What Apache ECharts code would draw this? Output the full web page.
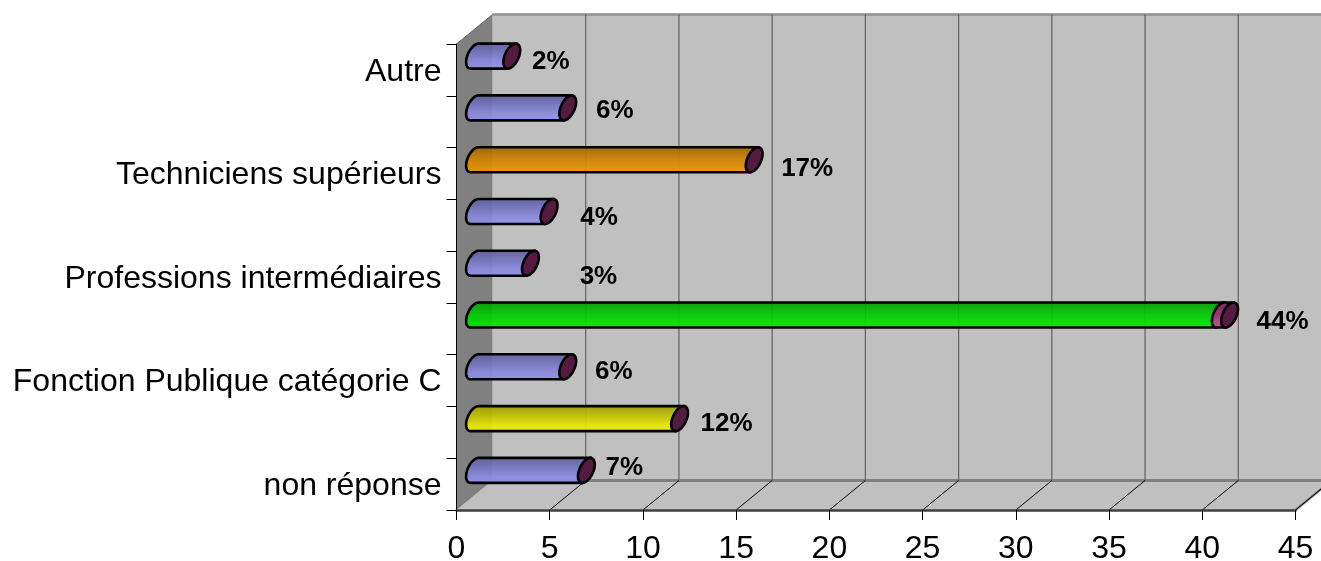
<!DOCTYPE html>
<html><head><meta charset="utf-8">
<style>html,body{margin:0;padding:0;background:#fff}#c{width:1321px;height:561px}</style>
<script src="https://cdn.jsdelivr.net/npm/echarts@6/dist/echarts.min.js"></script>
</head><body><div id="c"></div>
<script>
// Bottom-to-top, as the value axis reads them
const categories = ['non réponse','','Fonction Publique catégorie C','','Professions intermédiaires','','Techniciens supérieurs','','Autre'];
const counts     = [6, 11, 5, 40, 3, 4, 15, 5, 2];
const extraCaps  = [0, 0, 0, 0.5, 0, 0, 0, 0, 0];
const percents   = ['7%','12%','6%','44%','3%','4%','17%','6%','2%'];
const xTicks     = [0,5,10,15,20,25,30,35,40,45];

// Styling only
const barTints = ['blue','yellow','blue','green','blue','blue','orange','blue','blue'];
const tintStops = {
  blue:  ['#5f5fa0','#6c6cb4','#7c7ccc','#8a8ae0','#9090ee'],
  yellow:['#a0a000','#b4b400','#cccc00','#e6e600','#f0f000'],
  green: ['#00a000','#00b400','#00cc00','#00dc00','#00e800'],
  orange:['#a06400','#b87400','#d08400','#e08c00','#ec9400']
};
const labelShift = [[38,-2.5],[47,5],[46,5],[53,7],[68,14],[50,6.5],[53,9],[47,3],[39,6]];
const DEPTH_X = 36, DEPTH_Y = 29.5;

function grad(c){return {type:'linear',x:0,y:0,x2:0,y2:1,colorStops:[
  {offset:0,color:c[0]},{offset:.25,color:c[1]},{offset:.5,color:c[2]},{offset:.75,color:c[3]},{offset:1,color:c[4]}]};}
function ell(cx,cy,from,to,n){const a=7.4,s=4,b=12.5,pts=[];
  for(let k=0;k<=n;k++){const t=(from+(to-from)*k/n)*Math.PI/180;
    pts.push([cx+a*Math.cos(t)+s*Math.sin(t),cy-b*Math.sin(t)]);}
  return pts;}
function tube(x0,x1,cy,stops,op){
  const p=ell(x0,cy,90,270,24).concat([[x1-4,cy+12.5],[x1+4,cy-12.5]]);
  return [
    {type:'polygon',shape:{points:p},style:{fill:grad(stops),opacity:op,stroke:null}},
    {type:'polygon',shape:{points:p},style:{fill:'none',stroke:'#000',lineWidth:2.6}}
  ];
}

function renderWalls(params,api){
  const g=params.coordSys, L=g.x, B=g.y+g.height, T=g.y, R=g.x+g.width;
  const dx=DEPTH_X, dy=DEPTH_Y;
  const kids=[
    {type:'polygon',shape:{points:[[L+dx,T-dy],[R+dx,T-dy],[R+dx,B-dy],[L+dx,B-dy]]},style:{fill:'#c0c0c0'}},
    {type:'polygon',shape:{points:[[L,B],[L+dx,B-dy],[R+dx,B-dy],[R,B]]},style:{fill:'#c0c0c0'}},
    {type:'polygon',shape:{points:[[L,T],[L+dx,T-dy],[L+dx,B-dy],[L,B]]},style:{fill:'#808080'}},
    {type:'line',shape:{x1:L+dx,y1:T-dy,x2:R+dx,y2:T-dy},style:{stroke:'#909090',lineWidth:2.5}},
    {type:'line',shape:{x1:L+dx,y1:B-dy,x2:R+dx,y2:B-dy},style:{stroke:'#808080',lineWidth:3}},
    {type:'line',shape:{x1:L,y1:T,x2:L+dx,y2:T-dy},style:{stroke:'#666',lineWidth:1}},
    {type:'line',shape:{x1:R,y1:B,x2:R+dx,y2:B-dy},style:{stroke:'#808080',lineWidth:2.5}}
  ];
  xTicks.forEach(t=>{
    const x=api.coord([t,0])[0];
    if(t>0){
      if(t<45) kids.push({type:'line',shape:{x1:x+dx,y1:T-dy,x2:x+dx,y2:B-dy},style:{stroke:'#606060',lineWidth:1.2}});
      kids.push({type:'line',shape:{x1:x,y1:B,x2:x+dx,y2:B-dy},style:{stroke:'#000',lineWidth:1}});
    }
  });
  return {type:'group',children:kids};
}

function renderBar(params,api){
  const i=params.dataIndex, v=api.value(0), cat=api.value(1), extra=api.value(2);
  const base=api.coord([0,cat]), end=api.coord([v,cat]), far=api.coord([v+extra,cat]);
  const cy=base[1]-DEPTH_Y/2+1, off=DEPTH_X/2;
  let kids=tube(base[0]+off,end[0]+off,cy,tintStops[barTints[i]],0.92);
  if(extra>0) kids=kids.concat(tube(end[0]+off,far[0]+off,cy,['#7a2a58','#8a3264','#94386c','#b04a80','#b85088'],1));
  kids.push({type:'polygon',shape:{points:ell(far[0]+off,cy,0,360,40)},
    style:{fill:'#551a40',stroke:'#000',lineWidth:2.6}});
  kids.push({type:'text',style:{
    text:percents[i],x:far[0]+off+labelShift[i][0],y:cy+labelShift[i][1],
    align:'center',verticalAlign:'middle',
    font:'bold 26px "Liberation Sans"',fill:'#000'}});
  return {type:'group',children:kids};
}

const chart=echarts.init(document.getElementById('c'),null,{renderer:'canvas'});
chart.setOption({
  animation:false,
  backgroundColor:'#fff',
  textStyle:{fontFamily:'"Liberation Sans"'},
  grid:{left:456.5,right:25.5,top:44,bottom:51,containLabel:false,outerBoundsMode:'none'},
  xAxis:{type:'value',min:0,max:45,interval:5,z:5,
    splitLine:{show:false},
    axisLine:{show:true,lineStyle:{color:'#404040',width:2.5}},
    axisTick:{show:true,length:10,lineStyle:{color:'#000',width:1}},
    axisLabel:{fontSize:32,color:'#000',margin:23,fontFamily:'"Liberation Sans"',
      showMinLabel:true,showMaxLabel:true,hideOverlap:false}},
  yAxis:{type:'category',data:categories,z:5,boundaryGap:true,
    splitLine:{show:false},
    axisLine:{show:true,onZero:false,lineStyle:{color:'#000',width:1}},
    axisTick:{show:true,length:10,interval:0,alignWithLabel:false,lineStyle:{color:'#000',width:1}},
    axisLabel:{color:'#000',margin:15,interval:0,
      formatter:v=>v?'{a|'+v+'}':'',
      rich:{a:{fontSize:32,color:'#000',padding:[4,0,0,0],fontFamily:'"Liberation Sans"'}}}},
  series:[
    {type:'custom',z:1,silent:true,renderItem:renderWalls,data:[[0,0]],encode:{x:0,y:1}},
    {type:'custom',z:3,silent:true,renderItem:renderBar,
      data:counts.map((v,i)=>[v,i,extraCaps[i]]),encode:{x:0,y:1}}
  ]
});
</script></body></html>
